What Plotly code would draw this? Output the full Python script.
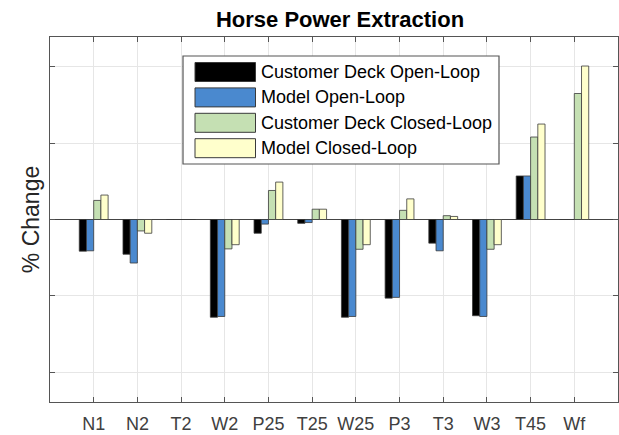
import plotly.graph_objects as go

categories = ["N1", "N2", "T2", "W2", "P25", "T25", "W25", "P3", "T3", "W3", "T45", "Wf"]

cust_open = [-0.415, -0.455, 0.0, -1.28, -0.18, -0.05, -1.28, -1.03, -0.31, -1.26, 0.57, 0.0]
model_open = [-0.41, -0.57, 0.0, -1.27, -0.06, -0.04, -1.27, -1.02, -0.41, -1.27, 0.57, 0.0]
cust_closed = [0.25, -0.15, 0.0, -0.385, 0.38, 0.135, -0.39, 0.12, 0.05, -0.39, 1.08, 1.65]
model_closed = [0.32, -0.18, 0.0, -0.33, 0.49, 0.135, -0.33, 0.27, 0.04, -0.33, 1.25, 2.01]

series_names = ["Customer Deck Open-Loop", "Model Open-Loop",
                "Customer Deck Closed-Loop", "Model Closed-Loop"]
series_colors = ["#000000", "#4A89CF", "#C5E0B3", "#FFFFCC"]
series_values = [cust_open, model_open, cust_closed, model_closed]

W, H = 619, 435
ML, MR, MT, MB = 50, 1, 37, 33

fig = go.Figure()
for name, color, vals in zip(series_names, series_colors, series_values):
    fig.add_trace(go.Bar(x=categories, y=vals, name=name,
                         marker=dict(color=color, line=dict(color="#3a3a3a", width=0.8))))

# legend drawn by hand so the swatches are wide like the original
def px_x(p):
    return (p - ML) / (W - ML - MR)

def px_y(p):
    return (H - MB - p) / (H - MT - MB)

shapes = [dict(type="rect", xref="paper", yref="paper",
               x0=px_x(183), x1=px_x(499), y0=px_y(164), y1=px_y(56),
               fillcolor="white", line=dict(color="#555555", width=1.2), layer="above")]
annotations = []
for i, (name, color) in enumerate(zip(series_names, series_colors)):
    cy = 72 + i * 25.4
    shapes.append(dict(type="rect", xref="paper", yref="paper",
                       x0=px_x(195), x1=px_x(255.5), y0=px_y(cy + 9.5), y1=px_y(cy - 9.5),
                       fillcolor=color, line=dict(color="#3a3a3a", width=1), layer="above"))
    annotations.append(dict(xref="paper", yref="paper", x=px_x(259), y=px_y(cy),
                            text=name, showarrow=False, xanchor="left", yanchor="middle",
                            font=dict(size=18, color="#000000")))

fig.update_layout(
    width=W, height=H,
    margin=dict(l=ML, r=MR, t=MT, b=MB, autoexpand=False),
    barmode="group", bargap=0.34, bargroupgap=0,
    plot_bgcolor="white", paper_bgcolor="white",
    font=dict(family="Arial, Liberation Sans, sans-serif", color="#262626"),
    showlegend=False,
    title=dict(text="<b>Horse Power Extraction</b>", x=340 / W, xanchor="center",
               y=1 - 19 / H, yanchor="middle", font=dict(size=22, color="#000000")),
    shapes=shapes, annotations=annotations,
)
fig.update_xaxes(range=[-1, 12], showgrid=True, gridcolor="#e6e6e6", automargin=False,
                 showline=True, linecolor="#555555", linewidth=1, mirror="ticks",
                 ticks="inside", ticklen=5, tickcolor="#555555",
                 tickfont=dict(size=18, color="#404040"), ticklabelstandoff=5)
fig.update_yaxes(range=[-2.39, 2.39], dtick=1, tick0=0, showgrid=True, gridcolor="#e6e6e6",
                 automargin=False,
                 showline=True, linecolor="#555555", linewidth=1, mirror="ticks",
                 ticks="inside", ticklen=5, tickcolor="#555555", showticklabels=False,
                 zeroline=True, zerolinecolor="#444444", zerolinewidth=1,
                 title=dict(text="% Change", standoff=2, font=dict(size=23, color="#262626")))

# page body has a default 8px margin, drop it so the figure sits at the top-left corner
fig.write_html("out.html", config={"displayModeBar": False},
               post_script="document.body.style.margin='0';")
